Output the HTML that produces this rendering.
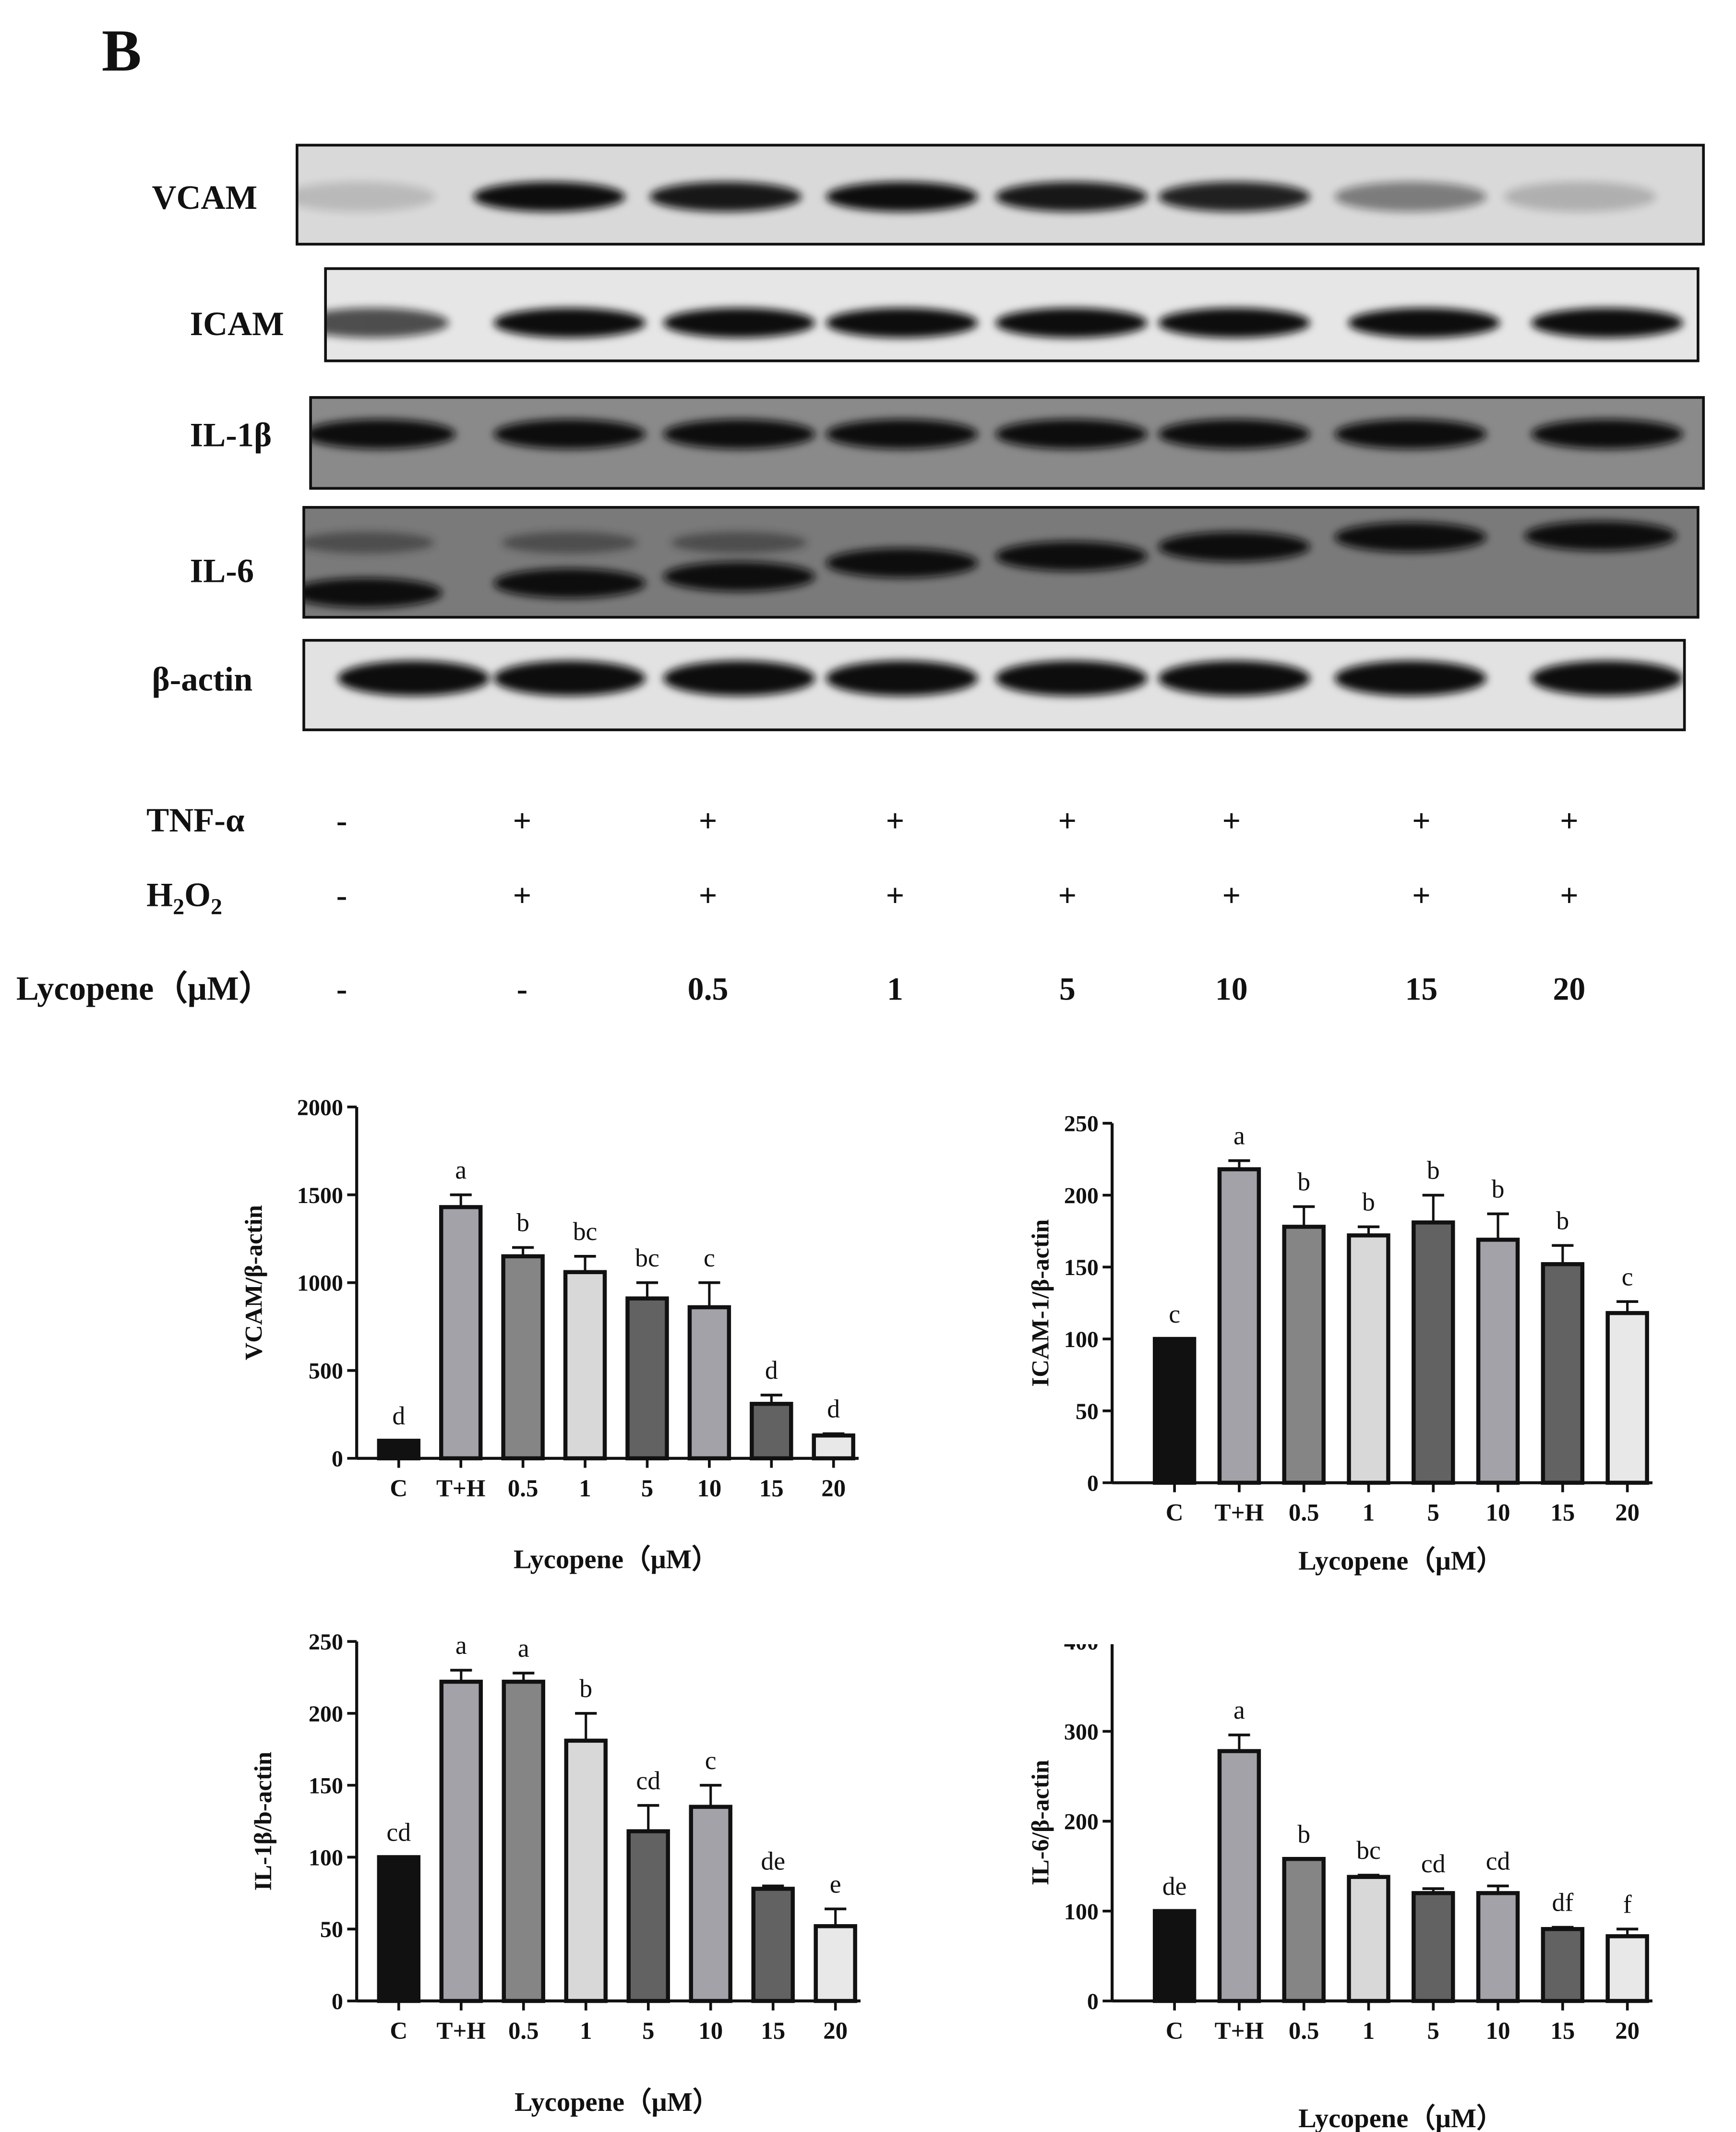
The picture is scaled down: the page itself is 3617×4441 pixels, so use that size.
<!DOCTYPE html>
<html><head><meta charset="utf-8">
<style>
html,body{margin:0;padding:0;background:#fff;}
svg{display:block;}
text{font-family:"Liberation Serif",serif;font-weight:bold;fill:#111;}
text.lt{font-weight:normal;}
</style></head>
<body>
<svg id="fig" width="3617" height="4441" viewBox="0 0 1280 1571.6" preserveAspectRatio="none" xmlns="http://www.w3.org/2000/svg">
<text x="75" y="52" font-size="44">B</text>
<g id="blots"></g>
<g id="treat"></g>
<g id="charts"></g>
</svg>
<script>
const NS="http://www.w3.org/2000/svg";
function mk(tag,attrs,parent,txt){const e=document.createElementNS(NS,tag);for(const k in attrs)e.setAttribute(k,attrs[k]);if(txt!==undefined)e.textContent=txt;parent.appendChild(e);return e;}
const svg=document.getElementById('fig');
const blots=document.getElementById('blots');
const defs=mk('defs',{},svg);
const f=mk('filter',{id:'blur',x:'-20%',y:'-50%',width:'140%',height:'200%'},defs);
mk('feGaussianBlur',{stdDeviation:'3'},f);

const blotNames=["VCAM","ICAM","IL-1β","IL-6","β-actin"];
const blotBoxes=[[219,107,1256,180,145,'#d9d9d9'],[240,198,1252,266,238,'#e6e6e6'],[229,293,1256,360,320,'#8a8a8a'],[224,374,1252,455,420,'#7a7a7a'],[224,472,1242,538,500,'#e2e2e2']];
const labelX=[112,140,140,140,112];
const laneX=[[265,405,535,665,790,910,1040,1165],[275,420,545,665,790,910,1050,1185],[280,420,545,665,790,910,1040,1185],[270,420,545,665,790,910,1040,1180],[305,420,545,665,790,910,1040,1185]];
const bandInt=[[0.15,1,0.95,1,0.95,0.9,0.45,0.2],[0.7,1,1,1,1,1,1,1],[1,1,1,1,1,1,1,1],[1,1,1,1,1,1,1,1],[1,1,1,1,1,1,1,1]];
const il6Y=[437,430,425,415,410,403,396,395];
blotBoxes.forEach((b,i)=>{
  const cp=mk('clipPath',{id:'cb'+i},defs);
  mk('rect',{x:b[0],y:b[1],width:b[2]-b[0],height:b[3]-b[1]},cp);
  const g=mk('g',{},blots);
  
  
  mk('rect',{x:b[0],y:b[1],width:b[2]-b[0],height:b[3]-b[1],fill:b[5]},g);
  const bg=mk('g',{'clip-path':'url(#cb'+i+')'},g);
  laneX[i].forEach((x,j)=>{
    const by=i===3?il6Y[j]:b[4];
    const e=mk('ellipse',{cx:x,cy:by,rx:56,ry:i===4?13:11,fill:'#111',opacity:bandInt[i][j],filter:'url(#blur)'},bg);
    
    
  });
  if(i===3){[270,420,545].forEach(x=>{mk('ellipse',{cx:x,cy:400,rx:50,ry:8,fill:'#222',opacity:0.5,filter:'url(#blur)'},bg);});}
  mk('rect',{x:b[0],y:b[1],width:b[2]-b[0],height:b[3]-b[1],fill:'none',stroke:'#111','stroke-width':2},g);
  const t=mk('text',{x:labelX[i],y:b[4]+9,'font-size':25},blots,blotNames[i]);
  
  
});

const tr=document.getElementById('treat');
const signX=[252,385,522,660,787,908,1048,1157];
const tnf=["-","+","+","+","+","+","+","+"];
const h2o2=["-","+","+","+","+","+","+","+"];
const lyco=["-","-","0.5","1","5","10","15","20"];
let t=mk('text',{x:108,y:613,'font-size':25},tr,'TNF-α');
t=mk('text',{x:108,y:668,'font-size':25},tr);
t.innerHTML='H<tspan font-size="17" dy="6">2</tspan><tspan dy="-6">O</tspan><tspan font-size="17" dy="6">2</tspan>';
t=mk('text',{x:12,y:737,'font-size':25},tr,'Lycopene（μM）');
signX.forEach((x,j)=>{
  [[tnf,613],[h2o2,668],[lyco,737]].forEach(([arr,y])=>{
    const s=mk('text',{x:x,y:y,'font-size':24,'text-anchor':'middle',fill:'#3a3a3a'},tr,arr[j]);
    
    
  });
});

const categories=["C","T+H","0.5","1","5","10","15","20"];
const barColors=["#111111","#a2a2a8","#858585","#d8d8d8","#626262","#a2a2a8","#626262","#e8e8e8"];
const vcamValues=[100,1430,1150,1060,910,860,310,130];
const vcamErr=[0,70,50,90,90,140,50,10];
const vcamLetters=["d","a","b","bc","bc","c","d","d"];
const vcamTicks=[0,500,1000,1500,2000];
const icamValues=[100,218,178,172,181,169,152,118];
const icamErr=[0,6,14,6,19,18,13,8];
const icamLetters=["c","a","b","b","b","b","b","c"];
const icamTicks=[0,50,100,150,200,250];
const il1Values=[100,222,222,181,118,135,78,52];
const il1Err=[0,8,6,19,18,15,2,12];
const il1Letters=["cd","a","a","b","cd","c","de","e"];
const il1Ticks=[0,50,100,150,200,250];
const il6Values=[100,278,158,138,120,120,80,72];
const il6Err=[0,18,0,2,5,8,2,8];
const il6Letters=["de","a","b","bc","cd","cd","df","f"];
const il6Ticks=[0,100,200,300,400];

const chartsG=document.getElementById('charts');
let cpi=0;
function chart(name,ax,y0,yTop,max,ticks,vals,errs,letters,ylab,ylabX,xlabY,first,step,clipTop){
  const g=mk('g',{},chartsG);
  
  
  const yS=v=>y0-(v/max)*(y0-yTop);
  const xS=i=>first+i*step;
  const bw=29;
  const top=clipTop!==undefined?clipTop:yTop;
  let tg=g;
  if(clipTop!==undefined){
    const cp=mk('clipPath',{id:'cc'+(cpi++)},defs);
    mk('rect',{x:0,y:clipTop,width:1280,height:400},cp);
    tg=mk('g',{'clip-path':'url(#cc'+(cpi-1)+')'},g);
  }
  mk('line',{x1:ax,y1:y0,x2:ax,y2:top,stroke:'#111','stroke-width':2.2},g);
  mk('line',{x1:ax,y1:y0,x2:xS(7)+bw/2+4,y2:y0,stroke:'#111','stroke-width':2.2},g);
  ticks.forEach(v=>{
    const y=yS(v);
    if(y>=top-1) mk('line',{x1:ax-7,y1:y,x2:ax,y2:y,stroke:'#111','stroke-width':2},g);
    const tt=mk('text',{x:ax-10,y:y+6,'font-size':17,'text-anchor':'end'},tg,String(v));
    
    
  });
  vals.forEach((v,i)=>{
    const x=xS(i);
    const r=mk('rect',{x:x-bw/2,y:yS(v),width:bw,height:y0-yS(v),fill:barColors[i],stroke:'#111','stroke-width':3},g);
    
    
    const ey=yS(v+errs[i]);
    if(errs[i]>0){
      mk('line',{x1:x,y1:yS(v),x2:x,y2:ey,stroke:'#111','stroke-width':1.8},g);
      mk('line',{x1:x-8,y1:ey,x2:x+8,y2:ey,stroke:'#111','stroke-width':2},g);
    }
    const lt=mk('text',{x:x,y:ey-12,'font-size':19,'text-anchor':'middle','class':'lt'},g,letters[i]);
    
    
    mk('line',{x1:x,y1:y0,x2:x,y2:y0+7,stroke:'#111','stroke-width':2},g);
    const ct=mk('text',{x:x,y:y0+28,'font-size':18,'text-anchor':'middle'},g,categories[i]);
    
    
  });
  const midY=(y0+top)/2;
  const yl=mk('text',{x:ylabX,y:midY,'font-size':18,'text-anchor':'middle',transform:`rotate(-90 ${ylabX} ${midY})`},g,ylab);
  
  
  const xl=mk('text',{x:(xS(0)+xS(7))/2,y:xlabY,'font-size':20,'text-anchor':'middle'},g,'Lycopene（μM）');
  
  
}
chart('vcam-chart',263,1075,816,2000,vcamTicks,vcamValues,vcamErr,vcamLetters,'VCAM/β-actin',193,1156,294,45.8);
chart('icam-chart',820,1093,828,250,icamTicks,icamValues,icamErr,icamLetters,'ICAM-1/β-actin',773,1157,866,47.7);
chart('il1b-chart',263,1475,1210,250,il1Ticks,il1Values,il1Err,il1Letters,'IL-1β/b-actin',200,1556,294,46);
chart('il6-chart',820,1475,1210,400,il6Ticks,il6Values,il6Err,il6Letters,'IL-6/β-actin',773,1568,866,47.7,1212);
</script>
</body></html>
